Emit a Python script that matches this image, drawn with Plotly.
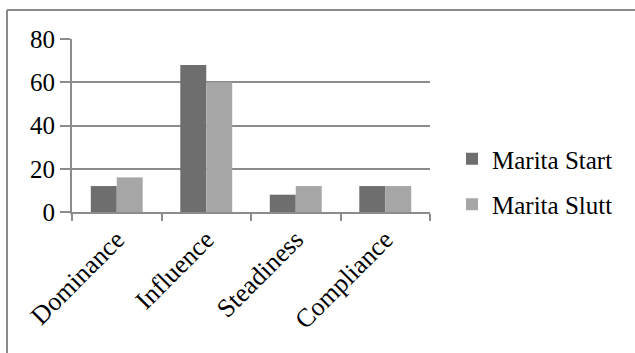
import plotly.graph_objects as go

categories = ["Dominance", "Influence", "Steadiness", "Compliance"]
start_values = [12, 68, 8, 12]
slutt_values = [16, 60, 12, 12]
series_names = ["Marita Start", "Marita Slutt"]
y_ticks = [0, 20, 40, 60, 80]

W, H = 635, 353
L, R, T, B = 72, 205, 39, 141
GRID = "#8c8c8c"
FONT = "Liberation Serif"

fig = go.Figure()
fig.add_trace(go.Bar(x=categories, y=start_values, name=series_names[0],
                     marker=dict(color="#6e6e6e", line=dict(width=0)),
                     legendgroup="a"))
fig.add_trace(go.Bar(x=categories, y=slutt_values, name=series_names[1],
                     marker=dict(color="#a6a6a6", line=dict(width=0)),
                     legendgroup="b"))

# chart frame (top and left edges)
pw, ph = W - L - R, H - T - B
def px(x):
    return (x - L) / pw
def py(y):
    return (H - B - y) / ph

fig.add_shape(type="line", xref="paper", yref="paper",
              x0=px(7), x1=px(W + 5), y0=py(10), y1=py(10),
              line=dict(color="#8a8a8a", width=2))
fig.add_shape(type="line", xref="paper", yref="paper",
              x0=px(7), x1=px(7), y0=py(10), y1=py(H + 5),
              line=dict(color="#8a8a8a", width=2))

fig.update_layout(
    width=W, height=H,
    margin=dict(l=L, r=R, t=T, b=B, pad=0),
    paper_bgcolor="white", plot_bgcolor="white",
    font=dict(family=FONT, size=25, color="black"),
    barmode="group", bargap=0.42, bargroupgap=0,
    showlegend=True,
    legend=dict(x=px(452), y=py(136), xanchor="left", yanchor="top",
                font=dict(family=FONT, size=25, color="black"),
                tracegroupgap=10, traceorder="grouped",
                bgcolor="rgba(0,0,0,0)"),
    xaxis=dict(tickangle=-45, showline=True, linecolor=GRID, linewidth=2,
               ticks="outside", tickson="boundaries", ticklen=7,
               tickcolor=GRID, tickwidth=2, showgrid=False,
               tickfont=dict(family=FONT, size=26)),
    yaxis=dict(range=[0, 80], tickvals=y_ticks, showline=True,
               linecolor=GRID, linewidth=2, ticks="outside", ticklen=10,
               tickcolor=GRID, tickwidth=2, showgrid=True, gridcolor=GRID,
               gridwidth=2, zeroline=False,
               tickfont=dict(family=FONT, size=25)),
)

fig.write_html("out.html")
